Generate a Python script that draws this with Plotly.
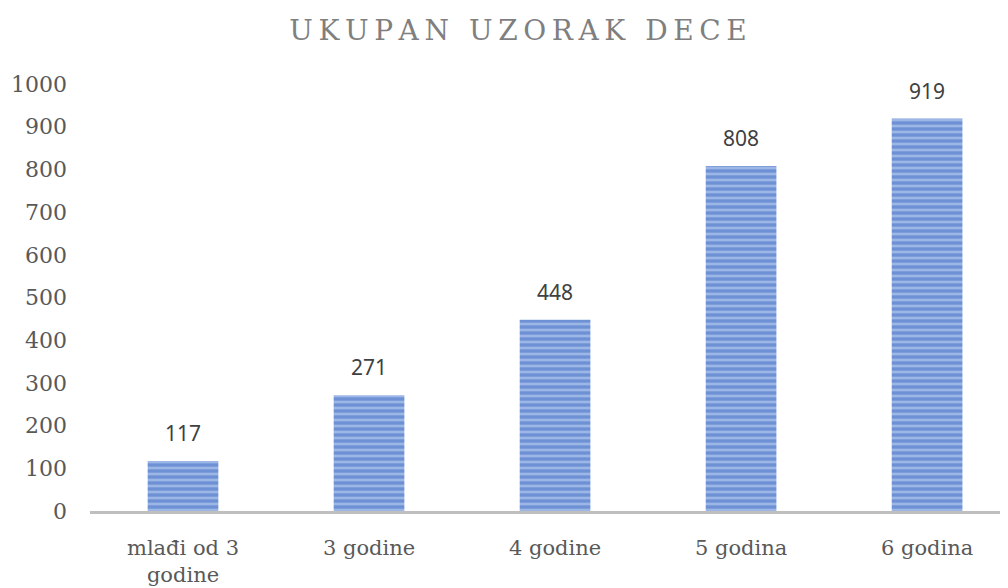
import plotly.graph_objects as go

categories = ["mlađi od 3<br>godine", "3 godine", "4 godine", "5 godina", "6 godina"]
values = [117, 271, 448, 808, 919]
y_ticks = [0, 100, 200, 300, 400, 500, 600, 700, 800, 900, 1000]
title_text = "UKUPAN UZORAK DECE"

# letter-spaced title (thin spaces between letters)
spaced_title = "\u2009".join(title_text)

fig = go.Figure(go.Bar(
    x=categories, y=values,
    width=0.38,
    marker=dict(
        color="#7f9fdb",
        line=dict(width=0),
        pattern=dict(shape="-", fgcolor="#3d6bc2", bgcolor="#9cb6e6", size=6, solidity=0.55),
    ),
    hoverinfo="x+y",
))

for c, v in zip(categories, values):
    fig.add_annotation(x=c, y=v, text=str(v), showarrow=False, yanchor="bottom", yshift=12,
                       font=dict(family="Noto Sans", size=21, color="#404040"))

fig.update_layout(
    width=1008, height=588,
    margin=dict(l=82, r=0, t=76, b=85),
    paper_bgcolor="white", plot_bgcolor="white",
    title=dict(text=spaced_title, x=0.506, xanchor="center", y=0.962, yanchor="middle",
               font=dict(family="DejaVu Serif", size=28, color="#7f7f7f")),
    showlegend=False,
)
fig.update_xaxes(
    range=[-0.5, 4.478], automargin=False,
    showline=True, linecolor="#bfbfbf", linewidth=2.5,
    showgrid=False, ticks="",
    tickfont=dict(family="DejaVu Serif", size=21, color="#595959"),
    ticklabelstandoff=16,
)
fig.update_yaxes(
    range=[0, 1000], tickvals=y_ticks, automargin=False,
    showgrid=False, showline=False, zeroline=False, ticks="",
    tickfont=dict(family="DejaVu Serif", size=22, color="#595959"),
    ticklabelstandoff=22,
)

fig.write_html("out.html")
